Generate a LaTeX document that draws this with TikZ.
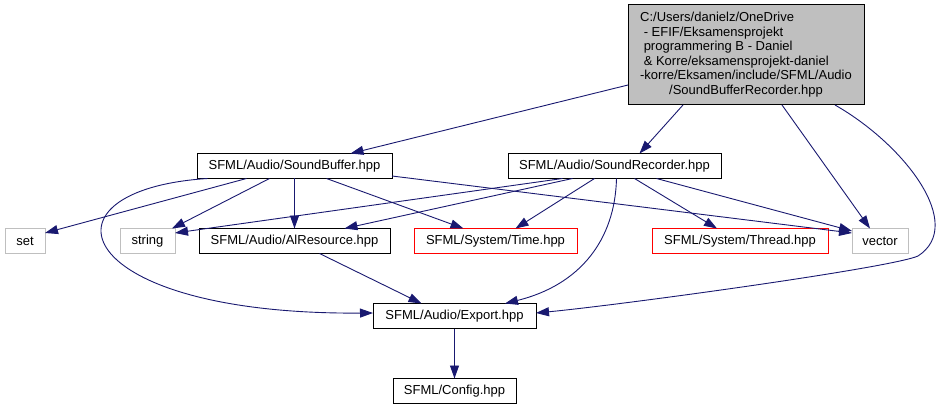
\documentclass[tikz,border=0pt]{standalone}
\usepackage{fontspec}
\setmainfont{Liberation Sans}
\usetikzlibrary{arrows.meta,calc}
\definecolor{edgeblue}{RGB}{25,25,112}
\definecolor{boxgray}{RGB}{191,191,191}
\begin{document}
\begin{tikzpicture}[x=1pt,y=-1pt,
  every node/.style={font=\fontsize{13}{14.6}\selectfont, inner sep=0pt, outer sep=0pt, line width=1pt},
  filebox/.style={draw=black, minimum height=25pt},
  extbox/.style={draw=boxgray, minimum height=25pt},
  redbox/.style={draw=red, minimum height=25pt},
  edge/.style={draw=edgeblue, line width=0.9pt, -{Triangle[length=13pt,width=9pt]}}]
\useasboundingbox (0,0) rectangle (940,409);
\node[draw=black, fill=boxgray, minimum width=236pt, minimum height=100pt] (top) at (746,55)
  {\begin{tabular}{@{}l@{}}C:/Users/danielz/OneDrive\\
   \ - EFIF/Eksamensprojekt\\
   \ programmering B - Daniel\\
   \ \& Korre/eksamensprojekt-daniel\\
   -korre/Eksamen/include/SFML/Audio\\
   \multicolumn{1}{@{}c@{}}{/SoundBufferRecorder.hpp}\end{tabular}};
\node[filebox, minimum width=195pt] (sb) at (294.5,166) {SFML/Audio/SoundBuffer.hpp};
\node[filebox, minimum width=213pt] (sr) at (614.5,166) {SFML/Audio/SoundRecorder.hpp};
\node[extbox, minimum width=40pt] (set) at (25,241) {set};
\node[extbox, minimum width=55pt] (str) at (147.5,241) {string};
\node[filebox, minimum width=191pt] (al) at (294.5,241) {SFML/Audio/AlResource.hpp};
\node[redbox, minimum width=163pt] (time) at (495.5,241) {SFML/System/Time.hpp};
\node[redbox, minimum width=176pt] (thread) at (740,241) {SFML/System/Thread.hpp};
\node[extbox, minimum width=56pt] (vec) at (880,241) {vector};
\node[filebox, minimum width=163pt] (exp) at (454.5,316) {SFML/Audio/Export.hpp};
\node[filebox, minimum width=123pt] (cfg) at (454.5,391) {SFML/Config.hpp};

\draw[edge] ($(top.west)+(0,30)$) -- ($(sb.north)+(56,0)$);
\draw[edge] ($(top.south)+(-63,0)$) -- ($(sr.north)+(25,0)$);
\draw[edge] ($(top.south)+(36,0)$) -- ($(vec.north)+(-10,0)$);
\draw[edge] ($(top.south)+(89,0)$) .. controls (905,145) and (966,225) .. (918,256)
   .. controls (891,268) and (620,305) .. ($(exp.east)+(0,-3)$);
\draw[edge] ($(sb.south)+(-48,0)$) -- ($(set.east)+(0,-8)$);
\draw[edge] ($(sb.south)+(-87,0)$) .. controls (30,190) and (70,315) .. ($(exp.west)+(0,-3)$);
\draw[edge] ($(sb.south)+(-25,0)$) -- ($(str.north east)+(-3,0)$);
\draw[edge] (sb.south) -- (al.north);
\draw[edge] ($(sb.south)+(32,0)$) -- ($(time.north)+(-32,0)$);
\draw[edge] ($(sb.east)+(0,10)$) -- ($(vec.west)+(0,-8)$);
\draw[edge] ($(sr.south)+(-52,0)$) -- ($(str.east)+(0,-8)$);
\draw[edge] ($(sr.south)+(-42,0)$) -- ($(al.north)+(50,0)$);
\draw[edge] ($(sr.south)+(-20,0)$) -- ($(time.north)+(20,0)$);
\draw[edge] ($(sr.south)+(2,0)$) .. controls (615,240) and (580,285) .. ($(exp.north east)+(-31,0)$);
\draw[edge] ($(sr.south)+(20,0)$) -- ($(thread.north)+(-23,0)$);
\draw[edge] ($(sr.south)+(42,0)$) -- ($(vec.west)+(0,-10)$);
\draw[edge] ($(al.south)+(25,0)$) -- ($(exp.north)+(-33,0)$);
\draw[edge] (exp.south) -- (cfg.north);
\end{tikzpicture}
\end{document}
